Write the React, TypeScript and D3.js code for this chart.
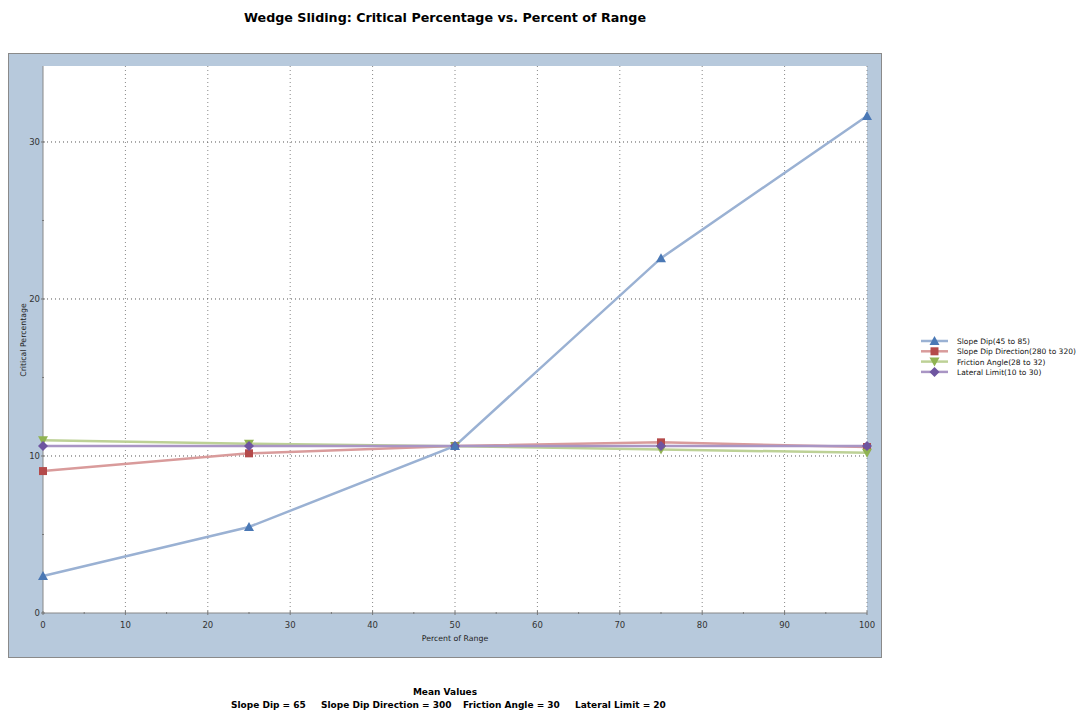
import React from "react";
import * as d3 from "d3";

const percents = [0, 25, 50, 75, 100];
const slopeDip = [2.36, 5.48, 10.64, 22.6, 31.66];
const slopeDipDirection = [9.04, 10.17, 10.64, 10.87, 10.57];
const frictionAngle = [11.0, 10.78, 10.62, 10.42, 10.2];
const lateralLimit = [10.64, 10.64, 10.64, 10.64, 10.64];
const seriesNames = [
  "Slope Dip(45 to 85)",
  "Slope Dip Direction(280 to 320)",
  "Friction Angle(28 to 32)",
  "Lateral Limit(10 to 30)",
];
const xTicks = [0, 10, 20, 30, 40, 50, 60, 70, 80, 90, 100];
const yTicks = [0, 10, 20, 30];
const meanLabels = ["Slope Dip = 65", "Slope Dip Direction = 300", "Friction Angle = 30", "Lateral Limit = 20"];

const lineColors = ["#9ab1d3", "#d99b9b", "#bdd196", "#a995c4"];
const markColors = ["#4a78b5", "#b44a4a", "#90b352", "#6e55a0"];
const markTypes = ["up", "square", "down", "diamond"];

function Marker({ type, x, y, color }: { type: string; x: number; y: number; color: string }) {
  const s = 4;
  if (type === "square") return <rect x={x - s} y={y - s} width={2 * s} height={2 * s} fill={color} />;
  if (type === "up") return <path d={`M${x},${y - s - 1}L${x + s + 1},${y + s}L${x - s - 1},${y + s}Z`} fill={color} />;
  if (type === "down") return <path d={`M${x},${y + s + 1}L${x + s + 1},${y - s}L${x - s - 1},${y - s}Z`} fill={color} />;
  return <path d={`M${x},${y - s - 1}L${x + s + 1},${y}L${x},${y + s + 1}L${x - s - 1},${y}Z`} fill={color} />;
}

export default function App() {
  const W = 1082, H = 716;
  const L = 43, R = 867, T = 66, B = 613;
  const x = d3.scaleLinear().domain([0, 100]).range([L, R]);
  const y = d3.scaleLinear().domain([0, 34.84]).range([B, T]);
  const series = [slopeDip, slopeDipDirection, frictionAngle, lateralLimit];
  const line = d3.line<number>().x((_, i) => x(percents[i])).y((d) => y(d));
  const minorX = d3.range(5, 100, 10);
  const minorY = [5, 15, 25];
  const font = "'DejaVu Sans', sans-serif";
  const order = [1, 2, 3, 0];
  return (
    <svg width={W} height={H} style={{ position: "absolute", left: 0, top: 0, background: "#fff" }}>
      <text x={445} y={22} textAnchor="middle" fontFamily="'DejaVu Sans', sans-serif" fontWeight="bold" fontSize={12.7} fill="#000">
        Wedge Sliding: Critical Percentage vs. Percent of Range
      </text>
      <rect x={8.5} y={53.5} width={873} height={604} fill="#b7c9dc" stroke="#8a8a8a" strokeWidth={1} />
      <rect x={L} y={T} width={R - L} height={B - T} fill="#fff" />
      {xTicks.filter((t) => t > 0).map((t) => (
        <line key={"gx" + t} x1={x(t)} x2={x(t)} y1={T} y2={B} stroke="#888" strokeDasharray="1,3" strokeWidth={1} />
      ))}
      {yTicks.filter((t) => t > 0).map((t) => (
        <line key={"gy" + t} x1={L} x2={R} y1={y(t)} y2={y(t)} stroke="#555" strokeDasharray="1,3" strokeWidth={1} />
      ))}
      <line x1={L} x2={L} y1={T} y2={B} stroke="#888" />
      <line x1={L} x2={R} y1={B} y2={B} stroke="#888" />
      {xTicks.map((t) => (
        <g key={"xt" + t}>
          <line x1={x(t)} x2={x(t)} y1={B - 2} y2={B + 2} stroke="#777" />
          <text x={x(t)} y={B + 15} textAnchor="middle" fontFamily={font} fontSize={8.5} fill="#333">{t}</text>
        </g>
      ))}
      {minorX.map((t) => (
        <line key={"mx" + t} x1={x(t)} x2={x(t)} y1={B - 1} y2={B + 1} stroke="#777" />
      ))}
      {yTicks.map((t) => (
        <g key={"yt" + t}>
          <line x1={L - 2} x2={L + 2} y1={y(t)} y2={y(t)} stroke="#777" />
          <text x={L - 3} y={y(t) + 3} textAnchor="end" fontFamily={font} fontSize={8.5} fill="#333">{t}</text>
        </g>
      ))}
      {minorY.map((t) => (
        <line key={"my" + t} x1={L - 1} x2={L + 1} y1={y(t)} y2={y(t)} stroke="#777" />
      ))}
      <text x={455} y={641} textAnchor="middle" fontFamily={font} fontSize={7.8} fill="#222">Percent of Range</text>
      <text transform={`translate(26,340) rotate(-90)`} textAnchor="middle" fontFamily={font} fontSize={7.8} fill="#222">Critical Percentage</text>
      {order.map((si) => (
        <path key={"l" + si} d={line(series[si]) || ""} fill="none" stroke={lineColors[si]} strokeWidth={2.5} />
      ))}
      {order.map((si) =>
        series[si].map((v, i) => (
          <Marker key={"m" + si + "-" + i} type={markTypes[si]} x={x(percents[i])} y={y(v)} color={markColors[si]} />
        ))
      )}
      {seriesNames.map((n, i) => {
        const ly = 341 + i * 10.3;
        return (
          <g key={"lg" + i}>
            <line x1={921} x2={948} y1={ly} y2={ly} stroke={lineColors[i]} strokeWidth={2.5} />
            <Marker type={markTypes[i]} x={934.5} y={ly} color={markColors[i]} />
            <text x={957} y={ly + 3} fontFamily={font} fontSize={7.5} fill="#111">{n}</text>
          </g>
        );
      })}
      <text x={445} y={695} textAnchor="middle" fontFamily={font} fontWeight="bold" fontSize={9} fill="#000">Mean Values</text>
      {meanLabels.map((m, i) => (
        <text key={"mv" + i} x={[231, 321, 463, 575][i]} y={708} fontFamily={font} fontWeight="bold" fontSize={9} fill="#000">{m}</text>
      ))}
    </svg>
  );
}
